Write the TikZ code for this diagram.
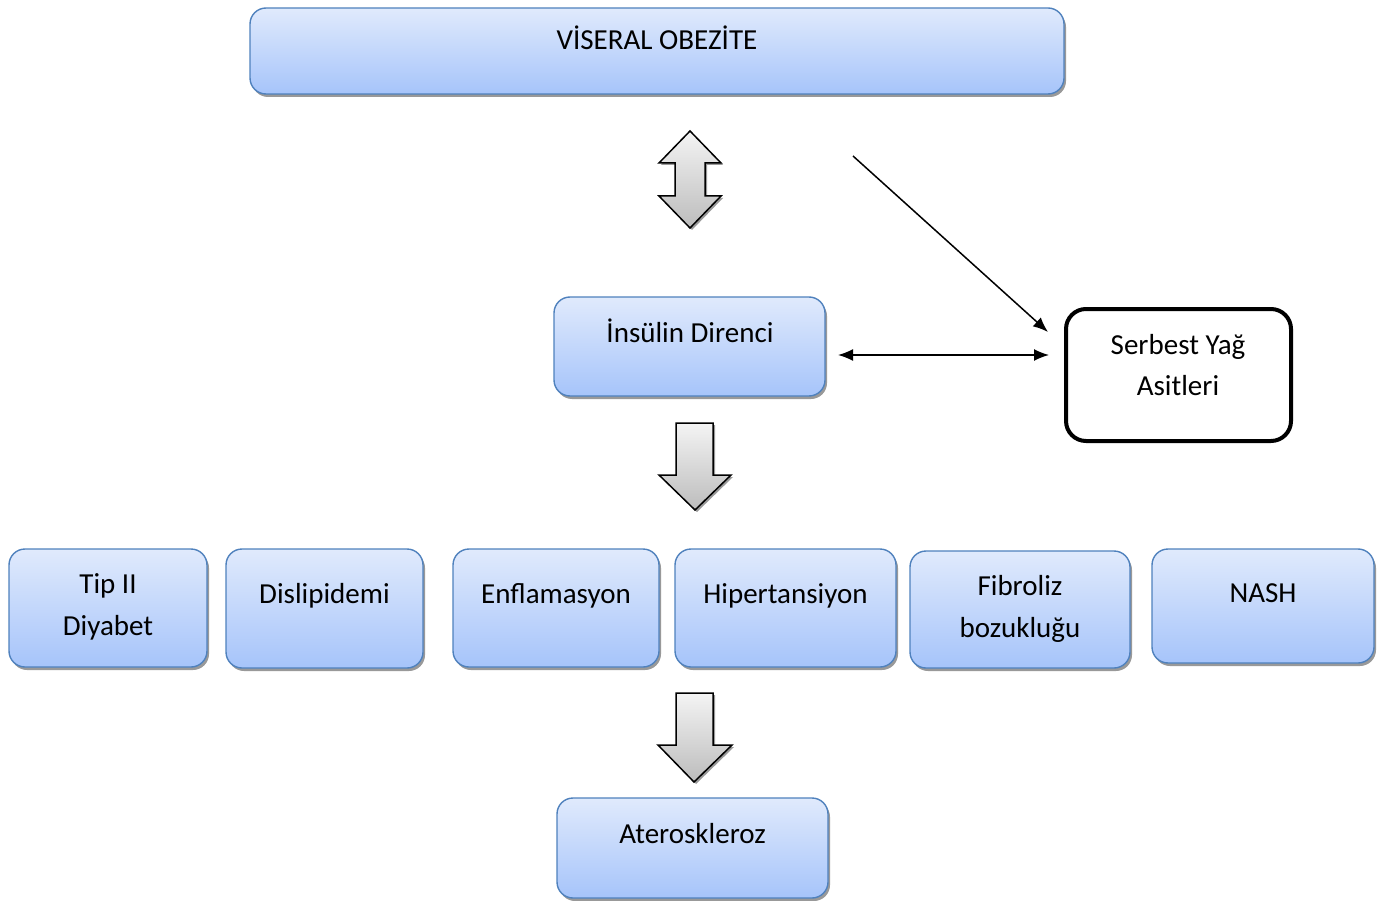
\documentclass[tikz,border=0pt]{standalone}
\usepackage{fontspec}
\setmainfont{Carlito}
\usetikzlibrary{shadows,arrows.meta}
\definecolor{boxblue}{RGB}{79,129,189}
\definecolor{gtop}{RGB}{224,234,252}
\definecolor{gbot}{RGB}{166,196,250}
\definecolor{atop}{RGB}{244,244,244}
\definecolor{abot}{RGB}{188,188,188}
\tikzset{
  bbox/.style={draw=boxblue, line width=1.4pt, rounded corners=16pt, top color=gtop, bottom color=gbot,
    drop shadow={shadow xshift=2pt, shadow yshift=-3pt, fill=black, opacity=0.4}, inner sep=0pt},
  wbox/.style={draw=black, line width=4pt, rounded corners=20pt, fill=white, inner sep=0pt},
  txt/.style={font=\fontsize{29}{42}\selectfont, anchor=base, inner sep=0pt},
  barrow/.style={draw=black, line width=1.5pt, line join=miter, top color=atop, bottom color=abot,
    drop shadow={shadow xshift=2pt, shadow yshift=-2pt, fill=black, opacity=0.4}},
  conn/.style={line width=1.5pt, draw=black},
}
\begin{document}
\begin{tikzpicture}[x=1pt,y=-1pt]
\useasboundingbox (0,0) rectangle (1378,901);
% boxes
\node[bbox, minimum width=814pt, minimum height=86pt] (vis) at (657,51) {};
\node[txt] (visT) at (657,50) {VİSERAL OBEZİTE};
\node[bbox, minimum width=271pt, minimum height=99pt] (ins) at (689.5,346.5) {};
\node[txt] (insT) at (690,342) {İnsülin Direnci};
\node[wbox, minimum width=225pt, minimum height=132pt] (syf) at (1178.5,375) {};
\node[txt] (syfT1) at (1178,354) {Serbest Yağ};
\node[txt] (syfT2) at (1178,395) {Asitleri};
\node[bbox, minimum width=198pt, minimum height=118pt] (tip) at (108,608) {};
\node[txt] (tipT1) at (108,593) {Tip II};
\node[txt] (tipT2) at (108,635) {Diyabet};
\node[bbox, minimum width=197pt, minimum height=119pt] (dis) at (324.5,608.5) {};
\node[txt] (disT) at (324.5,603) {Dislipidemi};
\node[bbox, minimum width=206pt, minimum height=118pt] (enf) at (556,608) {};
\node[txt] (enfT) at (556,603) {Enflamasyon};
\node[bbox, minimum width=221pt, minimum height=118pt] (hip) at (785.5,608) {};
\node[txt] (hipT) at (785.5,603) {Hipertansiyon};
\node[bbox, minimum width=220pt, minimum height=117pt] (fib) at (1020,609.5) {};
\node[txt] (fibT1) at (1020,595) {Fibroliz};
\node[txt] (fibT2) at (1020,637) {bozukluğu};
\node[bbox, minimum width=222pt, minimum height=114pt] (nash) at (1263,606) {};
\node[txt] (nashT) at (1263,602) {NASH};
\node[bbox, minimum width=271pt, minimum height=100pt] (ate) at (692.5,848) {};
\node[txt] (ateT) at (692.5,843) {Ateroskleroz};
% block arrows
\path[barrow] (690,131) -- (721,163) -- (705,163) -- (705,196) -- (721,196) -- (690,228)
  -- (659,196) -- (675,196) -- (675,163) -- (659,163) -- cycle;
\path[barrow] (676,423) -- (713,423) -- (713,475) -- (731,475) -- (695,510) -- (659,475)
  -- (676,475) -- cycle;
\path[barrow] (676,693) -- (713,693) -- (713,745) -- (732,745) -- (694,782) -- (658,745)
  -- (676,745) -- cycle;
% connectors
\coordinate (d1) at (853,156);
\coordinate (d2) at (1048,332);
\coordinate (h1) at (838,355);
\coordinate (h2) at (1049,355);
\draw[conn, -{Latex[length=15pt,width=12pt]}] (d1) -- (d2);
\draw[conn, {Latex[length=15pt,width=12pt]}-{Latex[length=15pt,width=12pt]}] (h1) -- (h2);
\end{tikzpicture}
\end{document}
